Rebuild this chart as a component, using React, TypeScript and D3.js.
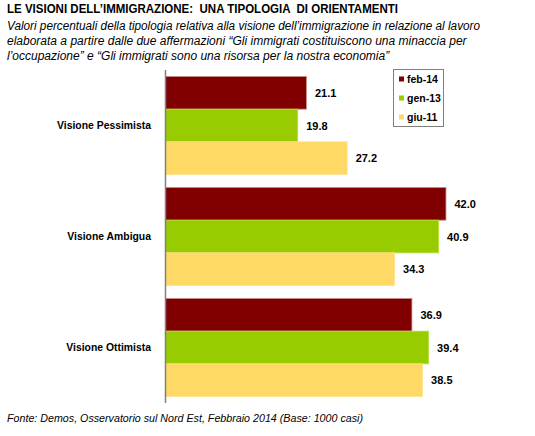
import * as d3 from "d3"

const categories = ["Visione Pessimista", "Visione Ambigua", "Visione Ottimista"]
const seriesNames = ["feb-14", "gen-13", "giu-11"]
const feb14 = [21.1, 42.0, 36.9]
const gen13 = [19.8, 40.9, 39.4]
const giu11 = [27.2, 34.3, 38.5]
const colors = ["#800000", "#99cc00", "#ffd966"]
const strokes = ["#c98a8a", "#b5e03a", "#ffe08a"]

const W = 535
const H = 436
const font = "Liberation Sans, Arial, sans-serif"

export default function App() {
  const values = [feb14, gen13, giu11]

  const x = d3.scaleLinear().domain([0, 45]).range([165.5, 466])
  const y = d3
    .scaleBand<string>()
    .domain(categories)
    .range([70, 403])
    .paddingInner(0.117)
    .paddingOuter(0.0585)
  const ySub = d3.scaleBand<string>().domain(seriesNames).range([0, y.bandwidth()])

  return (
    <svg
      width={W}
      height={H}
      style={{ position: "absolute", left: 0, top: 0, background: "#fff" }}
      fontFamily={font}
    >
      <text
        x={7}
        y={13}
        fontSize={12}
        fontWeight="bold"
        fill="#000"
        textLength={391}
        lengthAdjust="spacingAndGlyphs"
        style={{ whiteSpace: "pre" }}
      >
        {"LE VISIONI DELL’IMMIGRAZIONE:  UNA TIPOLOGIA  DI ORIENTAMENTI"}
      </text>
      <g fontSize={12} fontStyle="italic" fill="#000">
        <text x={7} y={29.5} textLength={473} lengthAdjust="spacingAndGlyphs">
          Valori percentuali della tipologia relativa alla visione dell’immigrazione in relazione al lavoro
        </text>
        <text x={7} y={44.5}>
          elaborata a partire dalle due affermazioni “Gli immigrati costituiscono una minaccia per
        </text>
        <text x={7} y={59.5}>
          l’occupazione” e “Gli immigrati sono una risorsa per la nostra economia”
        </text>
      </g>

      {categories.map((c, ci) => (
        <g key={c}>
          {seriesNames.map((s, si) => {
            const v = values[si][ci]
            const by = (y(c) ?? 0) + (ySub(s) ?? 0)
            return (
              <g key={s}>
                <rect
                  x={x(0)}
                  y={by}
                  width={x(v) - x(0)}
                  height={ySub.bandwidth()}
                  fill={colors[si]}
                  stroke={strokes[si]}
                  strokeWidth={0.8}
                />
                <text
                  x={x(v) + 8.5}
                  y={by + ySub.bandwidth() / 2 + 4}
                  fontSize={11}
                  fontWeight="bold"
                  fill="#000"
                >
                  {v.toFixed(1)}
                </text>
              </g>
            )
          })}
          <text
            x={151}
            y={(y(c) ?? 0) + y.bandwidth() / 2 + 3.5}
            fontSize={10.4}
            fontWeight="bold"
            textAnchor="end"
            fill="#000"
          >
            {c}
          </text>
        </g>
      ))}

      <line x1={x(0)} x2={x(0)} y1={70} y2={403} stroke="#808080" strokeWidth={1.5} />

      <g>
        <rect x={393.5} y={69.5} width={50} height={57} fill="#fff" stroke="#808080" strokeWidth={1} />
        {seriesNames.map((s, si) => (
          <g key={s} transform={`translate(399, ${79.5 + si * 19})`}>
            <rect x={0} y={-3} width={5} height={5} fill={colors[si]} />
            <text x={8} y={3.5} fontSize={10.5} fontWeight="bold" fill="#000">
              {s}
            </text>
          </g>
        ))}
      </g>

      <text x={7} y={422} fontSize={11} fontStyle="italic" fill="#000" textLength={356} lengthAdjust="spacingAndGlyphs">
        Fonte: Demos, Osservatorio sul Nord Est, Febbraio 2014 (Base: 1000 casi)
      </text>
    </svg>
  )
}
